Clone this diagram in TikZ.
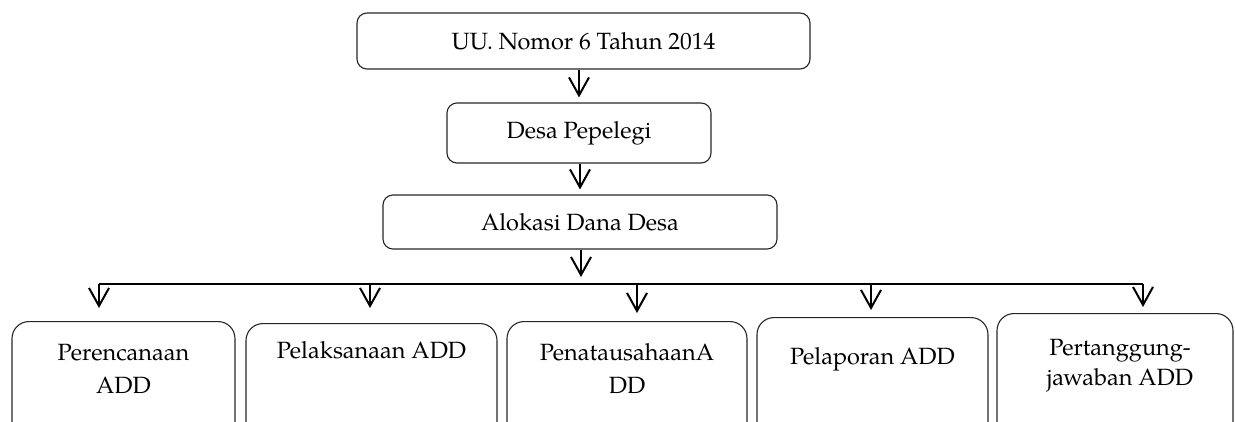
\documentclass[tikz,border=0pt]{standalone}
\usepackage{fontspec}
\setmainfont{texgyrepagella}[Extension=.otf, UprightFont=*-regular, BoldFont=*-bold, ItalicFont=*-italic, BoldItalicFont=*-bolditalic]
\usetikzlibrary{arrows.meta}
\tikzset{
  txt/.style={font=\fontsize{23.5}{33}\selectfont},
  topbox/.style={draw=black!85, line width=1.1pt, rounded corners=10pt, inner sep=0pt, txt},
  lowbox/.style={draw=black!85, line width=1.1pt, rounded corners=17pt, inner sep=0pt, anchor=north, minimum height=140pt},
  lowtxt/.style={txt, align=center, inner sep=0pt, anchor=north},
  arr/.style={line width=2pt, -{Straight Barb[length=18pt,width=20pt]}},
  bar/.style={line width=2pt},
}
\begin{document}
\begin{tikzpicture}[x=1pt,y=-1pt]
\useasboundingbox (0,0) rectangle (1235,421);
\clip (0,0) rectangle (1235,421);
% top chain
\node[topbox, minimum width=453pt, minimum height=56pt] (b1) at (583.5,41) {UU. Nomor 6 Tahun 2014};
\node[topbox, minimum width=264pt, minimum height=60pt] (b2) at (579,133) {Desa Pepelegi};
\node[topbox, minimum width=394pt, minimum height=54pt] (b3) at (580,222) {Alokasi Dana Desa};
\draw[arr, shorten >=5pt] (b1.south -| b2.north) -- (b2.north);
\draw[arr, shorten >=5pt] (b2.south -| b3.south) -- (b3.north);
\coordinate (t3) at (581,277);
\draw[arr] (b3.south -| t3) -- (t3);
% bottom boxes
\node[lowbox, minimum width=223pt] (A) at (123.5,321) [label={[lowtxt, yshift=-22.7pt]north:Perencanaan\\ADD}] {};
\node[lowbox, minimum width=251pt] (B) at (371.5,323) [label={[lowtxt, yshift=-18.7pt]north:Pelaksanaan ADD}] {};
\node[lowbox, minimum width=240pt] (C) at (627,321) [label={[lowtxt, yshift=-22.7pt]north:PenatausahaanA\\DD}] {};
\node[lowbox, minimum width=231pt] (D) at (872.5,317) [label={[lowtxt, yshift=-30.7pt]north:Pelaporan ADD}] {};
\node[lowbox, minimum width=236pt] (E) at (1115,313) [label={[lowtxt, yshift=-25.7pt, xshift=5pt, font=\fontsize{23.5}{30}\selectfont]north:Pertanggung-\\jawaban ADD}] {};
% distribution bar
\coordinate (jA) at (99,284);
\coordinate (jB) at (370,284);
\coordinate (jC) at (637,284);
\coordinate (jD) at (871,284);
\coordinate (jE) at (1143,284);
\draw[bar] (jA) -- (jE);
\draw[arr, shorten >=13pt] (jA) -- (jA |- A.north);
\draw[arr, shorten >=15pt] (jB) -- (jB |- B.north);
\draw[arr, shorten >=8pt] (jC) -- (jC |- C.north);
\draw[arr, shorten >=7pt] (jD) -- (jD |- D.north);
\draw[arr, shorten >=6pt] (jE) -- (jE |- E.north);
\end{tikzpicture}
\end{document}
